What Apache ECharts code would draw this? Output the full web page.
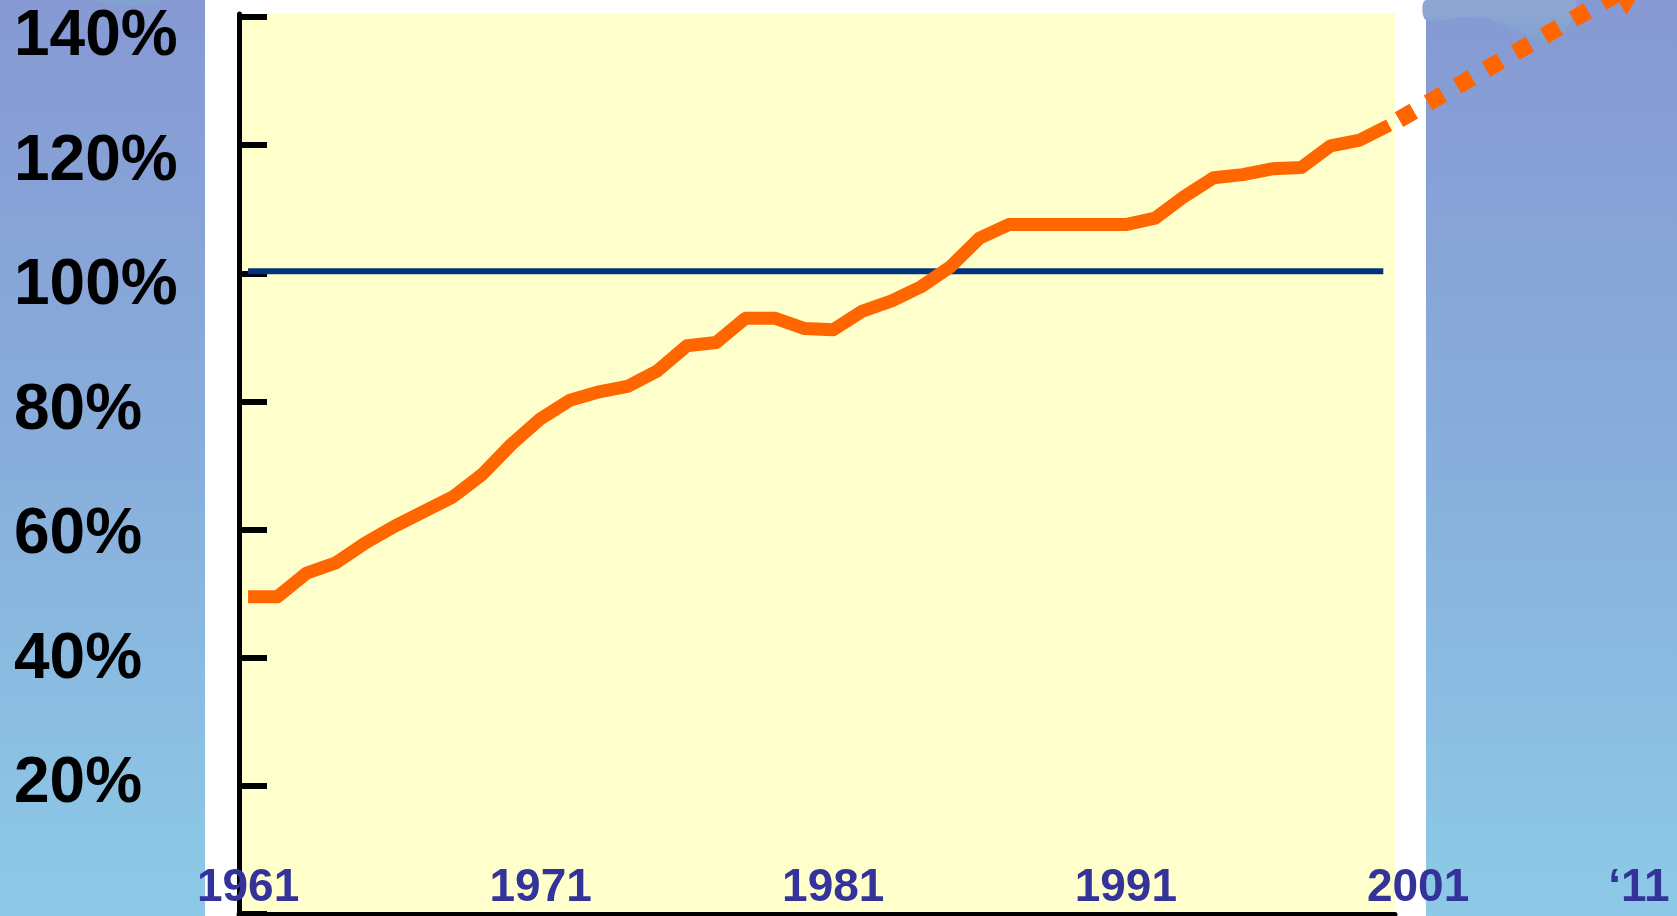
<!DOCTYPE html>
<html>
<head>
<meta charset="utf-8">
<title>Output 1961-2011</title>
<script src="https://cdn.jsdelivr.net/npm/echarts@6.0.0/dist/echarts.min.js"></script>
<style>
  html, body { margin: 0; padding: 0; background: #ffffff; }
  #chart { width: 1677px; height: 916px; }
</style>
</head>
<body>
<div id="chart"></div>
<script>
// values, % of the reference level
const years = [
  1961, 1962, 1963, 1964, 1965, 1966, 1967, 1968, 1969, 1970,
  1971, 1972, 1973, 1974, 1975, 1976, 1977, 1978, 1979, 1980,
  1981, 1982, 1983, 1984, 1985, 1986, 1987, 1988, 1989, 1990,
  1991, 1992, 1993, 1994, 1995, 1996, 1997, 1998, 1999, 2000
]
const output = [
  49.5, 49.5, 53.2, 54.8, 57.9, 60.5, 62.8, 65.1, 68.6, 73.3,
  77.3, 80.2, 81.5, 82.4, 84.8, 88.7, 89.2, 93.0, 93.0, 91.4,
  91.2, 94.1, 95.7, 97.9, 101.0, 105.5, 107.6, 107.6, 107.6, 107.6,
  107.6, 108.6, 112.0, 114.9, 115.4, 116.3, 116.5, 119.9, 120.8, 123.1
]
const refYears = [1961, 1999.8]
const refValues = [100.3, 100.3]
const projYears = [2000, 2010.7]
const projValues = [123.7, 145.0]

const yTickValues = [0, 20, 40, 60, 80, 100, 120, 140]
const yLabelValues = [20, 40, 60, 80, 100, 120, 140]
const xLabelYears = [1961, 1971, 1981, 1991]
const projLabelYears = [2001, 2011]

const pairs = (xs, ys) => xs.map((x, i) => [x, ys[i]])

const panelFill = new echarts.graphic.LinearGradient(0, 0, 0, 1, [
  { offset: 0, color: '#8699D3' },
  { offset: 0.5, color: '#88AEDB' },
  { offset: 1, color: '#8DCAE7' }
])
const waveFill = new echarts.graphic.LinearGradient(0, 0, 0, 1, [
  { offset: 0, color: '#93A7D3' },
  { offset: 1, color: '#80A2CF' }
])

const xLabelStyle = {
  inside: true,
  margin: 3,
  fontSize: 46,
  fontWeight: 'bold',
  fontFamily: 'Liberation Sans, Arial, sans-serif',
  color: '#333399'
}

const chart = echarts.init(document.getElementById('chart'))

const option = {
  animation: false,
  backgroundColor: '#ffffff',
  graphic: [
    { type: 'rect', z: -10, shape: { x: 0, y: 0, width: 205, height: 916 }, style: { fill: panelFill } },
    { type: 'rect', z: -10, shape: { x: 1426, y: 0, width: 251, height: 916 }, style: { fill: panelFill } },
    {
      type: 'polygon', z: -9,
      shape: { points: [[1426, 0], [1426, 20], [1480, 17], [1547, 42], [1566, 30], [1574, 0]], smooth: 0.3 },
      style: { fill: waveFill }
    },
    {
      type: 'polygon', z: -9,
      shape: { points: [[95, 0], [130, 6], [165, 0]], smooth: 0.4 },
      style: { fill: '#80A3CF' }
    }
  ],
  grid: [
    {
      left: 239, right: 282, top: 14, bottom: 2,
      show: true, backgroundColor: '#FFFFCC', borderWidth: 0,
      outerBoundsMode: 'none'
    },
    {
      left: 1396, right: 38, top: 14, bottom: 2,
      outerBoundsMode: 'none'
    }
  ],
  xAxis: [
    {
      gridIndex: 0,
      type: 'value',
      min: 1960.69,
      max: 2000.2,
      axisLine: { onZero: false, lineStyle: { color: '#000000', width: 5 } },
      axisTick: { show: false },
      splitLine: { show: false },
      axisLabel: Object.assign({}, xLabelStyle, {
        customValues: xLabelYears,
        formatter: v => String(v)
      })
    },
    {
      gridIndex: 1,
      type: 'value',
      min: 2000,
      max: 2011,
      axisLine: { show: false, onZero: false },
      axisTick: { show: false },
      splitLine: { show: false },
      axisLabel: Object.assign({}, xLabelStyle, {
        customValues: projLabelYears,
        formatter: v => (v === 2011 ? '\u201811' : String(v))
      })
    }
  ],
  yAxis: [
    {
      gridIndex: 0,
      type: 'value',
      position: 'left',
      min: 0,
      max: 140.47,
      axisLine: { show: true, onZero: false, lineStyle: { color: '#000000', width: 5 } },
      axisTick: {
        show: true,
        inside: true,
        length: 28,
        customValues: yTickValues,
        lineStyle: { color: '#000000', width: 6 }
      },
      axisLabel: { show: false },
      splitLine: { show: false }
    },
    {
      // label-only axis, the text block in the picture is spaced a bit tighter than the ticks
      gridIndex: 0,
      type: 'value',
      position: 'left',
      min: -0.74,
      max: 143.75,
      axisLine: { show: false, onZero: false },
      axisTick: { show: false },
      splitLine: { show: false },
      axisLabel: {
        customValues: yLabelValues,
        formatter: v => v + '%',
        align: 'left',
        margin: 225,
        fontSize: 64,
        fontWeight: 'bold',
        fontFamily: 'Liberation Sans, Arial, sans-serif',
        color: '#000000'
      }
    },
    {
      gridIndex: 1,
      type: 'value',
      min: 0,
      max: 140.47,
      show: false
    }
  ],
  series: [
    {
      name: 'reference',
      type: 'line',
      xAxisIndex: 0,
      yAxisIndex: 0,
      data: pairs(refYears, refValues),
      symbol: 'none',
      silent: true,
      lineStyle: { color: '#00337A', width: 6, cap: 'butt' }
    },
    {
      name: 'output',
      type: 'line',
      xAxisIndex: 0,
      yAxisIndex: 0,
      data: pairs(years, output),
      symbol: 'none',
      silent: true,
      lineStyle: { color: '#FF6600', width: 13, cap: 'butt', join: 'round' }
    },
    {
      name: 'projection',
      type: 'line',
      xAxisIndex: 1,
      yAxisIndex: 2,
      data: pairs(projYears, projValues),
      symbol: 'none',
      clip: false,
      silent: true,
      lineStyle: { color: '#FF6600', width: 17, type: [17, 16.5], dashOffset: -3.5, cap: 'butt' }
    },
    {
      name: 'arrow',
      type: 'scatter',
      xAxisIndex: 1,
      yAxisIndex: 2,
      data: [[projYears[1], projValues[1]]],
      symbol: 'triangle',
      symbolSize: [46, 40],
      symbolRotate: -60,
      clip: false,
      silent: true,
      itemStyle: { color: '#FF6600', opacity: 1 }
    }
  ]
}

chart.setOption(option)

window.addEventListener('resize', () => {
  chart.resize()
})
</script>
</body>
</html>
